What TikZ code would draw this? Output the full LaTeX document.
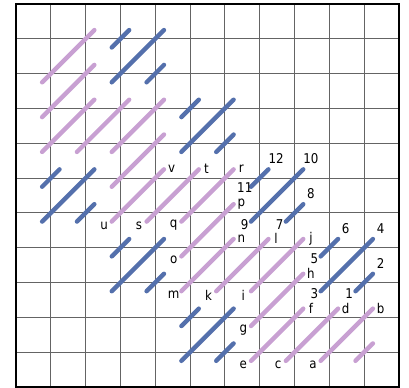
\documentclass[tikz,border=0pt]{standalone}
\usepackage{fontspec}
\setmainfont{DejaVu Sans}[FakeStretch=0.88]
\usetikzlibrary{calc}
\definecolor{segpink}{RGB}{200,160,210}
\definecolor{segblue}{RGB}{84,112,172}
\definecolor{gridgray}{RGB}{100,100,100}
\newcommand\mysegm[5]{%
  \coordinate (#2-s) at ({#3-0.25},{#4-0.25});
  \coordinate (#2-e) at ({#3+#5-0.75},{#4+#5-0.75});
  \draw[#1] (#2-s) -- (#2-e);}
\begin{document}
\begin{tikzpicture}[x=1cm,y=1cm,
  pinkseg/.style={segpink,line width=3.6pt,line cap=round},
  blueseg/.style={segblue,line width=3.6pt,line cap=round},
  lbl/.style={inner sep=0pt,font=\fontsize{11}{13}\selectfont,text=black},
  gridline/.style={gridgray,line width=0.7pt},
  frameline/.style={black,line width=2pt}]
\useasboundingbox (-0.4595,-0.029) rectangle (11.287,11.114);
\draw[gridline] (0,0) grid (11,11);
% unlabeled pink segments
\foreach \x/\y/\n [count=\c] in {3/6/2,3/7/2,2/7/2,1/7/2,1/8/2,1/9/2,10/1/1}
  {\mysegm{pinkseg}{Q\c}{\x}{\y}{\n}}
% labeled pink segments
\foreach \x/\y/\bl/\tl in {9/1/a/b,8/1/c/d,7/1/e/f,7/2/g/h,7/3/i/j,6/3/k/l,5/3/m/n,5/4/o/p,5/5/q/r,4/5/s/t,3/5/u/v}
  {\mysegm{pinkseg}{P\bl}{\x}{\y}{2}
   \node[lbl] (L\bl) at ($(P\bl-s)+(-0.22,-0.11)$) {\bl};
   \node[lbl] (L\tl) at ($(P\bl-e)+(0.22,0.01)$) {\tl};}
% unlabeled blue groups
\foreach \x/\y [count=\c] in {5/7,3/9,5/1,3/3,1/5}
  {\mysegm{blueseg}{BL\c}{\x}{\y}{2}
   \mysegm{blueseg}{BR\c}{\x+1}{\y}{1}
   \mysegm{blueseg}{BU\c}{\x}{\y+1}{1}}
% labeled blue segments
\foreach \x/\y/\n/\bl/\tl/\dy in {10/3/1/1/2/-0.08,9/3/2/3/4/-0.08,9/4/1/5/6/-0.08,8/5/1/7/8/-0.08,7/5/2/9/10/-0.08,7/6/1/11/12/-0.03}
  {\mysegm{blueseg}{N\bl}{\x}{\y}{\n}
   \node[lbl] (M\bl) at ($(N\bl-s)+(-0.18,\dy)$) {\bl};
   \node[lbl] (M\tl) at ($(N\bl-e)+(0.22,0.30)$) {\tl};}
\draw[frameline] (0,0) rectangle (11,11);
\end{tikzpicture}
\end{document}
